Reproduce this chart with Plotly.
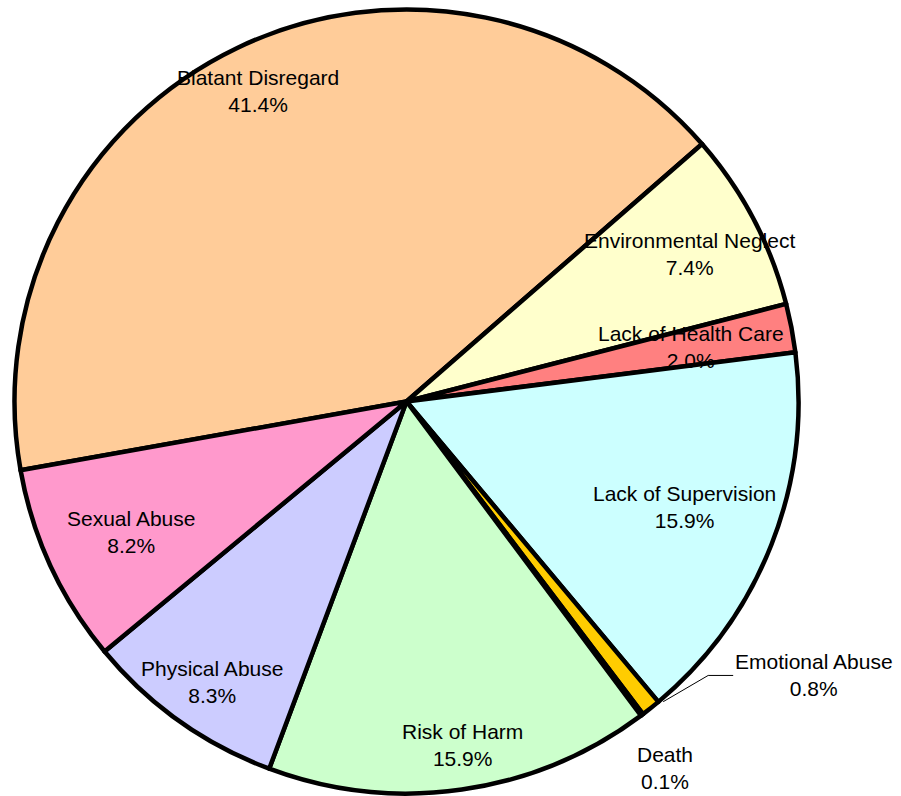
import math
import plotly.graph_objects as go

# ---- data ----
categories = ["Blatant Disregard", "Environmental Neglect", "Lack of Health Care",
              "Lack of Supervision", "Emotional Abuse", "Death", "Risk of Harm",
              "Physical Abuse", "Sexual Abuse"]
percents = [41.4, 7.4, 2.0, 15.9, 0.8, 0.1, 15.9, 8.3, 8.2]
pct_labels = ["41.4%", "7.4%", "2.0%", "15.9%", "0.8%", "0.1%", "15.9%", "8.3%", "8.2%"]

# ---- styles ----
colors = ["#FFCC99", "#FFFFCC", "#FF8080", "#CCFFFF", "#FFCC00", "#000080",
          "#CCFFCC", "#CCCCFF", "#FF99CC"]
label_r = [0.879, 0.8125, 0.739, 0.758, 1.253, 1.145, 0.889, 0.870, 0.778]
label_dang = [0.06, 0.24, 0.07, -0.5, -17.56, 1.72, -1.21, -0.64, -0.54]

W, H = 901, 796
CX, CY, R = 406.5, 401.5, 392.0
ROT = 259.9

fig = go.Figure(go.Pie(
    labels=categories, values=percents, sort=False, direction="clockwise",
    rotation=ROT, textinfo="none", hoverinfo="label+percent",
    marker=dict(colors=colors, line=dict(color="black", width=4.5)),
    domain=dict(x=[(CX - R) / W, (CX + R) / W], y=[1 - (CY + R) / H, 1 - (CY - R) / H]),
    showlegend=False,
))

total = sum(percents)
cum = 0.0
annotations = []
shapes = []
for i, (cat, v) in enumerate(zip(categories, percents)):
    mid = ROT + (cum + v / 2) / total * 360.0
    cum += v
    ang = math.radians(mid + label_dang[i])
    px = CX + label_r[i] * R * math.sin(ang)
    py = CY - label_r[i] * R * math.cos(ang)
    annotations.append(dict(
        x=px / W, y=1 - py / H, xref="paper", yref="paper",
        text=f"{cat}<br>{pct_labels[i]}", showarrow=False,
        font=dict(family="Liberation Sans, Arial, sans-serif", size=21, color="black"),
        align="center", xanchor="center", yanchor="middle"))
    if cat == "Emotional Abuse":
        m = math.radians(mid - 2.0)
        sx = CX + (R + 3) * math.sin(m)
        sy = CY - (R + 3) * math.cos(m)
        elx = px - 106
        ex = px - 81
        ey = py
        shapes.append(dict(type="path", xref="paper", yref="paper",
                           path=f"M {sx / W},{1 - sy / H} L {elx / W},{1 - ey / H} L {ex / W},{1 - ey / H}",
                           line=dict(color="black", width=1)))

fig.update_layout(width=W, height=H, margin=dict(l=0, r=0, t=0, b=0),
                  paper_bgcolor="white", plot_bgcolor="white",
                  annotations=annotations, shapes=shapes)
fig.write_html("out.html", config={"displayModeBar": False},
               post_script="document.body.style.margin='0px';document.body.style.overflow='hidden';")
